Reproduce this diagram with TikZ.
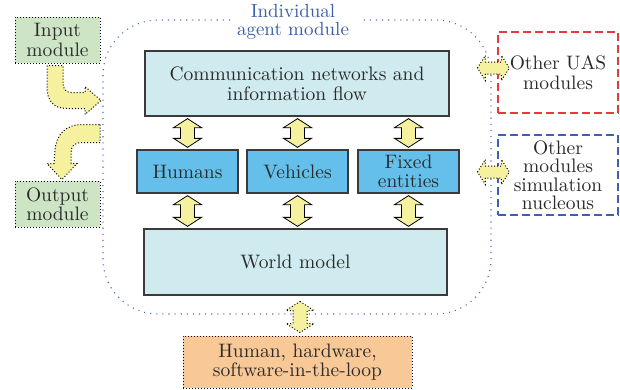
\documentclass[tikz,border=0pt]{standalone}
\usepackage{fontspec}
\setmainfont{lmroman10-regular.otf}
\usetikzlibrary{calc}
\definecolor{boxcyan}{HTML}{CFEBEF}
\definecolor{boxblue}{HTML}{64C0EB}
\definecolor{boxgreen}{HTML}{CDE5C4}
\definecolor{boxorange}{HTML}{F8C896}
\definecolor{arrowyellow}{HTML}{F5F19E}
\definecolor{dashred}{HTML}{E63A3A}
\definecolor{dashblue}{HTML}{3D60B0}
\definecolor{frameblue}{HTML}{4A6FC2}
\definecolor{titleblue}{HTML}{3B5CA8}
\definecolor{txt}{HTML}{2A2A2A}
\definecolor{edge}{HTML}{3A3A3A}

% vertical fat double arrow from #2 (top tip) to #3 (bottom tip)
\newcommand\vfat[3][]{%
  \path[#1] (#2) -- ++(14,9) -- ++(-7,0) -- ($(#3)+(7,-9)$) -- ++(7,0) -- (#3)
    -- ++(-14,-9) -- ++(7,0) -- ($(#2)+(-7,9)$) -- ++(-7,0) -- cycle;}
% horizontal fat double arrow from #2 (left tip) to #3 (right tip)
\newcommand\hfat[3][]{%
  \path[#1] (#2) -- ++(8,-12.5) -- ++(0,6.5) -- ($(#3)+(-8,-6)$) -- ++(0,-6.5) -- (#3)
    -- ++(-8,12.5) -- ++(0,-6.5) -- ($(#2)+(8,6)$) -- ++(0,6.5) -- cycle;}

\begin{document}
\begin{tikzpicture}[x=1pt,y=-1pt,
  every node/.style={text=txt, align=center, inner sep=0pt,
    font=\fontsize{19.5}{19.5}\selectfont},
  bigbox/.style={draw=edge, line width=1.3pt, fill=boxcyan},
  smallbox/.style={draw=edge, line width=1.3pt, fill=boxblue},
  dotbox/.style={draw=black, dotted, line width=1pt},
  redbox/.style={draw=dashred, line width=1.2pt, dash pattern=on 8pt off 4pt},
  bluebox/.style={draw=dashblue, line width=1.2pt, dash pattern=on 8pt off 4pt},
  solidarrow/.style={fill=arrowyellow, draw=black, line width=0.8pt, line join=miter},
  dotarrow/.style={fill=arrowyellow, draw=black, dotted, line width=1pt},
  frame/.style={draw=frameblue, line width=1.1pt, dash pattern=on 1.1pt off 5pt, rounded corners=55pt},
]
\useasboundingbox (0,0) rectangle (620,389);

% enclosing individual agent module
\draw[frame] (230,20) -- (103,20) -- (103,314) -- (491,314) -- (491,20) -- (362,20);
\node[text=titleblue, font=\fontsize{19}{17.5}\selectfont] (title) at (293,22) {Individual\\agent module};

% core blocks
\node[bigbox, minimum width=304, minimum height=65] (comm) at (297,83.5)
  {Communication networks and\\information flow};
\node[smallbox, minimum width=101, minimum height=43] (hum) at (187.5,171.5) {Humans};
\node[smallbox, minimum width=101, minimum height=43] (veh) at (297.5,171.5) {Vehicles};
\node[smallbox, minimum width=101, minimum height=43] (fix) at (408.5,171.5) {Fixed\\entities};
\node[bigbox, minimum width=303, minimum height=66] (world) at (295.5,262) {World model};

% input / output modules
\node[dotbox, fill=boxgreen, minimum width=85, minimum height=46] (in) at (57.5,40) {Input\\module};
\node[dotbox, fill=boxgreen, minimum width=85, minimum height=46] (out) at (57.5,204) {Output\\module};

% external modules
\node[redbox, minimum width=120, minimum height=81] (uas) at (558,72.5) {Other UAS\\modules};
\node[bluebox, minimum width=120, minimum height=80,
  font=\fontsize{19.5}{18.5}\selectfont] (sim) at (558,175) {Other\\modules\\simulation\\nucleous};
\node[dotbox, fill=boxorange, minimum width=229, minimum height=52] (loop) at (297.5,362)
  {Human, hardware,\\software-in-the-loop};

% links between the blocks
\foreach \b in {hum,veh,fix}{
  \coordinate (t) at ($(comm.south -| \b.north)+(0,2)$);
  \coordinate (b) at ($(\b.north)+(0,-2)$);
  \vfat[solidarrow]{t}{b}
  \coordinate (t) at ($(\b.south)+(0,2)$);
  \coordinate (b) at ($(world.north -| \b.south)+(0,-2)$);
  \vfat[solidarrow]{t}{b}
}

% links to the outside
\coordinate (ua) at ($(uas.west)+(-20,-4.5)$);
\coordinate (ub) at ($(uas.west)+(12,-4.5)$);
\hfat[dotarrow]{ua}{ub}
\coordinate (sa) at ($(sim.west)+(-20,-3)$);
\coordinate (sb) at ($(sim.west)+(12,-3)$);
\hfat[dotarrow]{sa}{sb}
\coordinate (la) at ($(loop.north)+(2.5,-34)$);
\coordinate (lb) at ($(loop.north)+(2.5,-3)$);
\vfat[dotarrow]{la}{lb}

% curved input arrow
\path[dotarrow] ($(in.south)+(-10.5,2)$) -- ++(0,21)
  .. controls +(0,14) and +(-14,0) .. ++(20,22)
  -- ++(18,0) -- ++(0,6) -- ++(16,-14) -- ++(-16,-14) -- ++(0,6) -- ++(-14,0)
  .. controls +(-5,0) and +(0,5) .. ++(-8,-9) -- ++(0,-18) -- cycle;

% curved output arrow
\path[dotarrow] ($(out.north)+(42.5,-56)$) -- ++(0,18) -- ++(-19,0)
  .. controls +(-6,0) and +(0,-6) .. ++(-10,10) -- ++(0,11) -- ++(6,0)
  -- ++(-15,16) -- ++(-15,-16) -- ++(7,0) -- ++(1,-13)
  .. controls +(1,-16) and +(-16,0) .. ++(27,-26) -- cycle;
\end{tikzpicture}
\end{document}
